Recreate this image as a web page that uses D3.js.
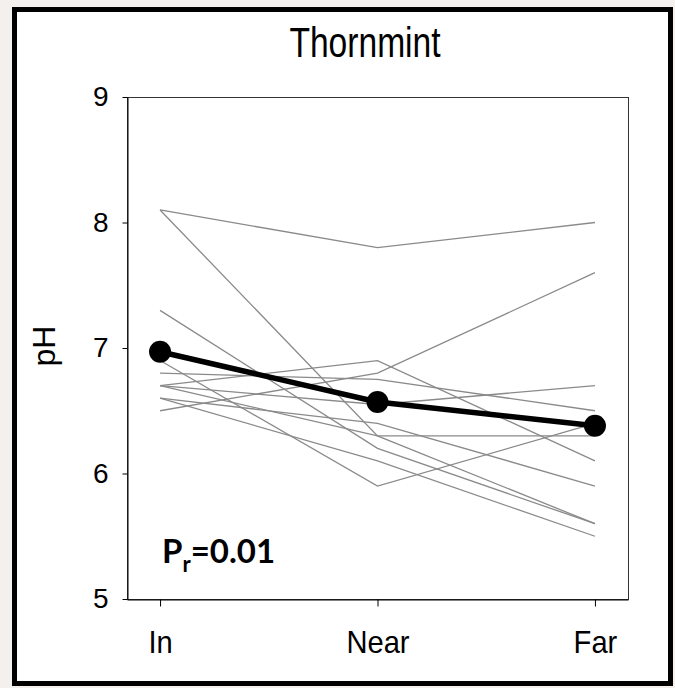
<!DOCTYPE html>
<html>
<head>
<meta charset="utf-8">
<script src="https://cdn.jsdelivr.net/npm/d3@7"></script>
<style>
  html, body { margin: 0; padding: 0; background: #f4f0ed; }
  svg { display: block; }
</style>
</head>
<body>
<script>
// Sampling positions relative to the plant
const categories = ["In", "Near", "Far"];

// pH of each individual transect (In, Near, Far)
const transectIn   = [8.1, 8.1, 7.3, 6.9, 6.5, 6.7, 6.8, 6.7, 6.6, 6.6, 6.7];
const transectNear = [7.8, 6.3, 6.2, 5.9, 6.8, 6.9, 6.75, 6.55, 6.4, 6.1, 6.3];
const transectFar  = [8.0, 5.6, 5.6, 6.4, 7.6, 6.1, 6.5, 6.7, 5.9, 5.5, 6.3];

// Mean pH at each position
const meanPH = [6.97, 6.57, 6.38];

const yTicks = [5, 6, 7, 8, 9];
const title = "Thornmint";
const yLabel = "pH";

const W = 675, H = 688;
const plot = { left: 127, right: 628, top: 97, bottom: 599 };

const svg = d3.select("body").append("svg")
  .attr("width", W).attr("height", H);

// white panel with heavy black frame
svg.append("rect")
  .attr("x", 14.5).attr("y", 9.5)
  .attr("width", 656).attr("height", 674)
  .attr("fill", "#ffffff")
  .attr("stroke", "#000").attr("stroke-width", 5);

const x = d3.scalePoint()
  .domain(categories)
  .range([plot.left, plot.right])
  .padding(0.152);

const y = d3.scaleLinear()
  .domain([5, 9])
  .range([plot.bottom, plot.top]);

// plot box
svg.append("rect")
  .attr("x", plot.left + 0.5).attr("y", plot.top + 0.5)
  .attr("width", plot.right - plot.left).attr("height", plot.bottom - plot.top)
  .attr("fill", "none")
  .attr("stroke", "#333").attr("stroke-width", 1);

// individual transects
const series = transectIn.map((v, i) => [
  { c: categories[0], v: v },
  { c: categories[1], v: transectNear[i] },
  { c: categories[2], v: transectFar[i] }
]);

const line = d3.line().x(d => x(d.c)).y(d => y(d.v));

svg.append("g")
  .selectAll("path")
  .data(series)
  .join("path")
  .attr("d", line)
  .attr("fill", "none")
  .attr("stroke", "#8a8a8a")
  .attr("stroke-width", 1.3);

// mean line with markers
const meanData = categories.map((c, i) => ({ c: c, v: meanPH[i] }));

svg.append("path")
  .datum(meanData)
  .attr("d", line)
  .attr("fill", "none")
  .attr("stroke", "#000")
  .attr("stroke-width", 5.5)
  .attr("stroke-linejoin", "round");

svg.append("g")
  .selectAll("circle")
  .data(meanData)
  .join("circle")
  .attr("cx", d => x(d.c))
  .attr("cy", d => y(d.v))
  .attr("r", 11)
  .attr("fill", "#000");

// axes
const fontFamily = "'Liberation Sans', Arial, sans-serif";

const yAxis = svg.append("g")
  .attr("transform", `translate(${plot.left + 0.5},0)`)
  .call(d3.axisLeft(y).tickValues(yTicks).tickFormat(d3.format("d"))
    .tickSize(5).tickSizeOuter(0).tickPadding(14));

const xAxis = svg.append("g")
  .attr("transform", `translate(0,${plot.bottom + 0.5})`)
  .call(d3.axisBottom(x).tickSize(7).tickSizeOuter(0).tickPadding(24));

[yAxis, xAxis].forEach(g => {
  g.attr("font-family", null).attr("font-size", null);
  g.select(".domain").attr("stroke", "#000");
  g.selectAll(".tick line").attr("stroke", "#000");
  g.selectAll(".tick text")
    .attr("fill", "#000")
    .style("font-family", fontFamily);
});
yAxis.selectAll(".tick text").style("font-size", "28px");
xAxis.selectAll(".tick text")
  .style("font-size", "31px")
  .attr("transform", "scale(0.94,1)");

// title
svg.append("text")
  .attr("transform", `translate(365,57) scale(0.8,1)`)
  .attr("text-anchor", "middle")
  .style("font-family", fontFamily)
  .style("font-size", "42px")
  .text(title);

// y axis label
svg.append("text")
  .attr("transform", "translate(55,346) rotate(-90)")
  .attr("text-anchor", "middle")
  .style("font-family", fontFamily)
  .style("font-size", "32px")
  .text(yLabel);

// statistic annotation
const stat = svg.append("text")
  .attr("x", 162)
  .attr("y", 563)
  .style("font-family", "Lato, 'Open Sans', sans-serif")
  .style("font-weight", "bold")
  .style("font-size", "33px");
stat.append("tspan").text("P");
stat.append("tspan").attr("dy", 9).style("font-size", "22px").text("r");
stat.append("tspan").attr("dy", -9).text("=0.01");
</script>
</body>
</html>
